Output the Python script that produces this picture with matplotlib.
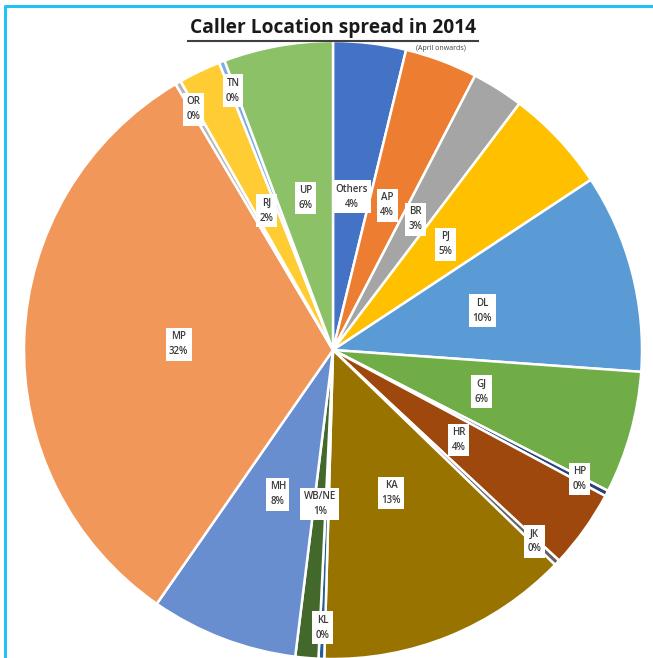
import numpy as np
import matplotlib.pyplot as plt
from matplotlib.lines import Line2D

# regions, ordre du graphique (sens horaire a partir de midi)
states = ['Others', 'AP', 'BR', 'PJ', 'DL', 'GJ', 'HP', 'HR', 'JK', 'KA',
          'KL', 'WB/NE', 'MH', 'MP', 'OR', 'RJ', 'TN', 'UP']
share = [3.8, 3.8, 2.7, 5.4, 10.4, 6.4, 0.3, 4.1, 0.3, 13.2,
         0.3, 1.2, 7.7, 31.8, 0.3, 2.2, 0.3, 5.7]
colors = ['#4472C4', '#ED7D31', '#A5A5A5', '#FFC000', '#5B9BD5', '#70AD47',
          '#264478', '#9E480E', '#636363', '#997300', '#255E91', '#43682B',
          '#698ED0', '#F1975A', '#B7B7B7', '#FFCD33', '#7CAFDD', '#8CC168']

plt.rcParams['font.family'] = ['Open Sans', 'DejaVu Sans']

fig = plt.figure(figsize=(6.53, 6.58), dpi=100)
ax = fig.add_axes([24/653, -1/658, 618/653, 618/658])

wedges, _ = ax.pie(share, colors=colors, startangle=90, counterclock=False,
                   radius=1, wedgeprops=dict(edgecolor='white', linewidth=1.8))
ax.set_xlim(-1, 1)
ax.set_ylim(-1, 1)
ax.set_aspect('auto')
ax.axis('off')

# etiquettes dans des boites blanches
total = sum(share)
for w, name, v in zip(wedges, states, share):
    mid = np.deg2rad((w.theta1 + w.theta2) / 2)
    r = 0.9 if v / total < 0.005 else 0.5
    pct = '%.0f%%' % (100 * v / total)
    ax.text(r * np.cos(mid), r * np.sin(mid), name + '\n' + pct,
            ha='center', va='center', fontsize=7, color='#3a3a3a',
            fontweight='semibold', linespacing=1.5,
            bbox=dict(boxstyle='square,pad=0.35', fc='white', ec='none'))

# titre souligne
fig.text(333/653, 1 - 28/658, 'Caller Location spread in 2014',
         ha='center', va='center', fontsize=13.8, fontweight='bold',
         color='#1a1a1a')
fig.add_artist(Line2D([188/653, 478/653], [1 - 41/658, 1 - 41/658],
                      color='#404040', lw=1.5))
fig.text(441/653, 1 - 48/658, '(April onwards)', ha='center', va='center',
         fontsize=5, color='#404040')

# cadre cyan
fig.add_artist(Line2D([5/653, 5/653, 1.0], [0.0, 1 - 6/658, 1 - 6/658],
                      color='#22C3F3', lw=2.2))

fig.savefig('out.png', dpi=100)
